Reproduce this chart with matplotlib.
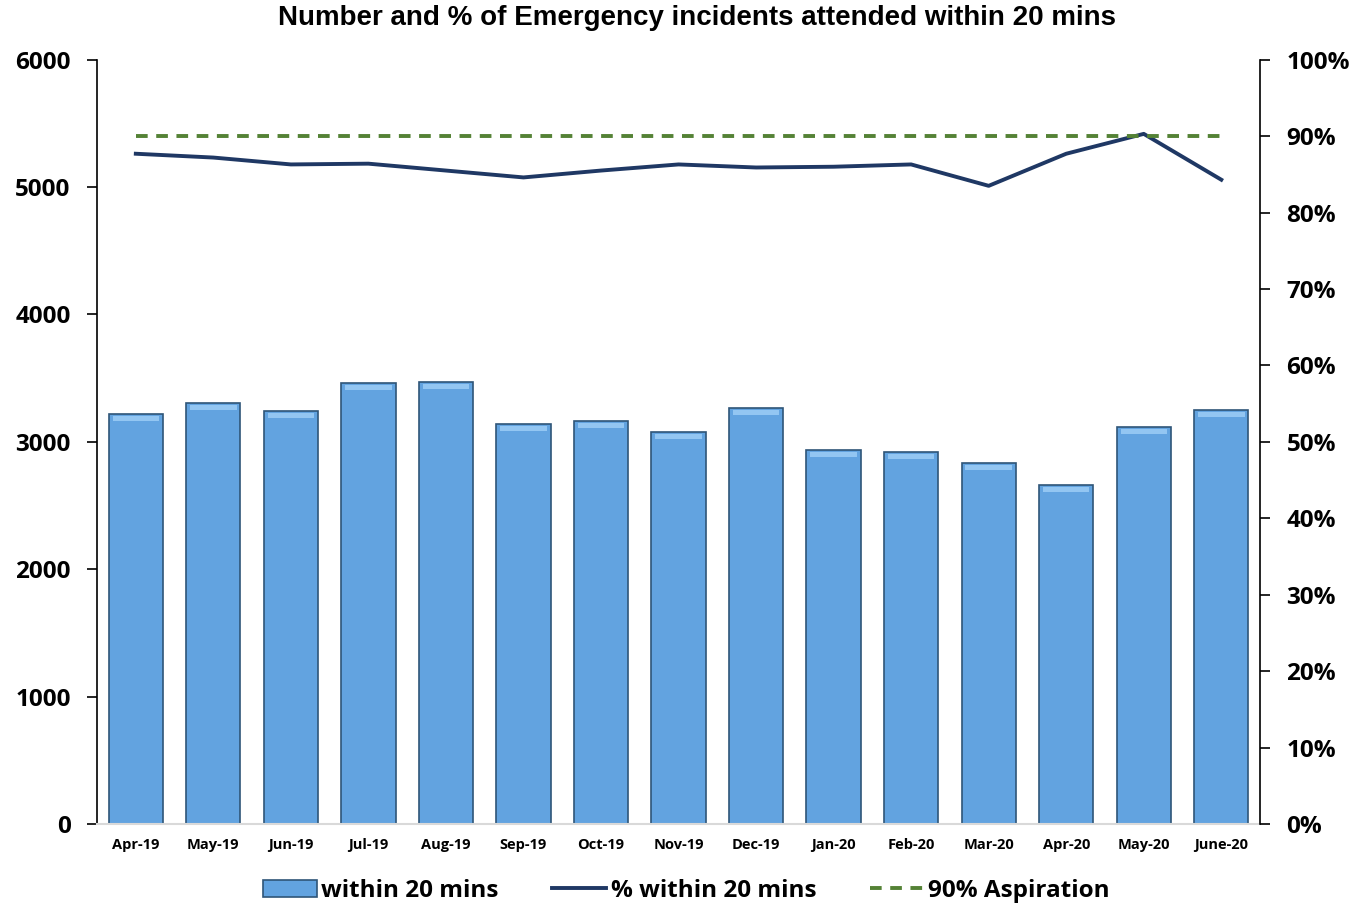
import numpy as np
import matplotlib
matplotlib.use('Agg')
import matplotlib.pyplot as plt
from matplotlib.ticker import FuncFormatter

months = ['Apr-19', 'May-19', 'Jun-19', 'Jul-19', 'Aug-19', 'Sep-19', 'Oct-19',
          'Nov-19', 'Dec-19', 'Jan-20', 'Feb-20', 'Mar-20', 'Apr-20', 'May-20', 'June-20']
within20 = [3220, 3307, 3244, 3464, 3472, 3142, 3166, 3079, 3268, 2938, 2922, 2836, 2663, 3119, 3252]
pct_within20 = [87.7, 87.2, 86.3, 86.4, 85.5, 84.6, 85.5, 86.3, 85.9, 86.0, 86.3, 83.5, 87.7, 90.3, 84.3]
aspiration = [90] * len(months)

plt.rcParams['font.family'] = ['Open Sans', 'DejaVu Sans']

fig = plt.figure(figsize=(13.59, 9.05), dpi=100)
ax = fig.add_axes([0.0714, 0.0895, 0.8558, 0.8445])
x = np.arange(len(months))

bars = ax.bar(x, within20, width=0.7, color='#62A3E0', edgecolor='#2F5578', linewidth=1.2,
              label='within 20 mins', zorder=2)
# light strip along the top of each bar, for the bevel look
ax.bar(x, [45] * len(months), bottom=np.array(within20) - 60, width=0.6,
       color='#93C6F2', linewidth=0, zorder=3)

ax.set_xlim(-0.5, len(months) - 0.5)
ax.set_ylim(0, 6000)
ax.set_yticks(range(0, 6001, 1000))
ax.set_xticks(x)
ax.set_xticklabels(months, fontsize=10.5, fontweight='bold')
ax.tick_params(axis='x', length=0, pad=10)
ax.tick_params(axis='y', labelsize=17.5, length=7, width=1.2, pad=12)
for lab in ax.get_yticklabels():
    lab.set_fontweight('bold')
ax.spines['top'].set_visible(False)
ax.spines['right'].set_visible(False)
ax.spines['left'].set_linewidth(1.2)
ax.spines['bottom'].set_color('#D9D9D9')
ax.spines['bottom'].set_linewidth(1.5)

ax2 = ax.twinx()
ax2.set_ylim(0, 100)
ax2.set_yticks(range(0, 101, 10))
ax2.yaxis.set_major_formatter(FuncFormatter(lambda v, p: f'{v:.0f}%'))
ax2.tick_params(axis='y', labelsize=17.5, length=7, width=1.2, pad=12)
for lab in ax2.get_yticklabels():
    lab.set_fontweight('bold')
for s in ['top', 'left', 'bottom']:
    ax2.spines[s].set_visible(False)
ax2.spines['right'].set_linewidth(1.2)

ln1, = ax2.plot(x, pct_within20, color='#1F3864', linewidth=2.8, label='% within 20 mins')
ln2, = ax2.plot(x, aspiration, color='#548235', linewidth=2.8, linestyle=(0, (3, 2.2)),
                label='90% Aspiration')

fig.text(0.513, 0.98, 'Number and % of Emergency incidents attended within 20 mins',
         ha='center', va='center', fontsize=20, fontweight='bold', family='Liberation Sans')

fig.legend([bars, ln1, ln2], ['within 20 mins', '% within 20 mins', '90% Aspiration'],
           loc='center', bbox_to_anchor=(0.505, 0.016), ncol=3, frameon=False,
           prop={'size': 17.5, 'weight': 'bold'}, handlelength=2.2, handletextpad=0.2,
           columnspacing=2.2)

fig.savefig('out.png', dpi=100)
